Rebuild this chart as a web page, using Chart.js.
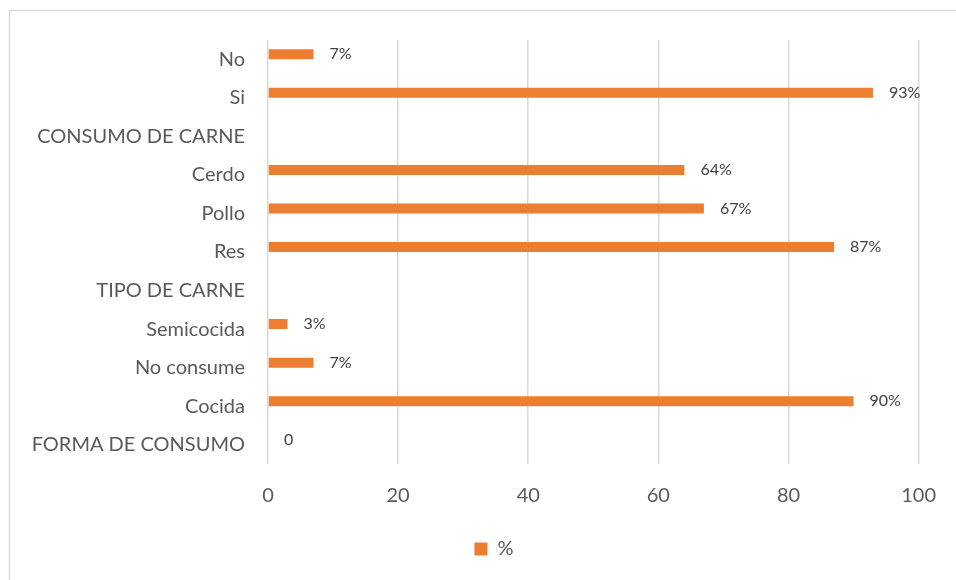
<!DOCTYPE html>
<html>
<head>
<meta charset="utf-8">
<script src="https://cdn.jsdelivr.net/npm/chart.js@4"></script>
<style>
  html, body { margin: 0; padding: 0; background: #fff; }
  #wrap { width: 956px; height: 580px; position: relative; }
</style>
</head>
<body>
<div id="wrap"><canvas id="chart"></canvas></div>
<script>
const categories  = ['No', 'Si', 'CONSUMO DE CARNE', 'Cerdo', 'Pollo', 'Res', 'TIPO DE CARNE', 'Semicocida', 'No consume', 'Cocida', 'FORMA DE CONSUMO'];
const values      = [7, 93, null, 64, 67, 87, null, 3, 7, 90, 0];
const valueLabels = ['7%', '93%', '', '64%', '67%', '87%', '', '3%', '7%', '90%', '0'];
// the source sheet has a second, empty series that pushes the visible bar up in each slot
const blankSeries = [null, null, null, null, null, null, null, null, null, null, null];
const xTicks      = [0, 20, 40, 60, 80, 100];

const FONT = 'Lato, "Open Sans", sans-serif';

const frame = {
    id: 'frame',
    beforeDraw(chart) {
        const c = chart.ctx;
        c.save();
        c.fillStyle = '#fff';
        c.fillRect(0, 0, chart.width, chart.height);
        c.strokeStyle = '#d9d9d9';
        c.lineWidth = 1.5;
        c.beginPath();
        c.moveTo(9.5, chart.height + 2);
        c.lineTo(9.5, 10.5);
        c.lineTo(chart.width + 2, 10.5);
        c.stroke();
        c.restore();
    },
};

// the legend is centred on the whole (wider) chart frame, not just the visible part
const legendShift = {
    id: 'legendShift',
    afterLayout(chart) {
        chart.legend.left += 28;
        chart.legend.right += 28;
    },
};

const barLabels = {
    id: 'barLabels',
    afterDatasetsDraw(chart) {
        const c = chart.ctx;
        const meta = chart.getDatasetMeta(0);
        c.save();
        c.font = '16px ' + FONT;
        c.fillStyle = '#404040';
        c.textBaseline = 'middle';
        c.textAlign = 'left';
        meta.data.forEach((bar, i) => {
            if (!valueLabels[i]) return;
            c.fillText(valueLabels[i], bar.x + 16, bar.y);
        });
        c.restore();
    },
};

new Chart(document.getElementById('chart'), {
    type: 'bar',
    data: {
        labels: categories,
        datasets: [
            { label: '%', data: values, backgroundColor: '#ed7d31', barThickness: 10, categoryPercentage: 0.52, barPercentage: 1, inflateAmount: 0 },
            { label: '', data: blankSeries, backgroundColor: 'transparent', barThickness: 10, categoryPercentage: 0.52, barPercentage: 1, inflateAmount: 0 },
        ],
    },
    options: {
        indexAxis: 'y',
        responsive: true,
        maintainAspectRatio: false,
        animation: false,
        layout: { padding: { left: 10, top: 40, right: 34, bottom: 11 } },
        plugins: {
            legend: {
                position: 'bottom',
                labels: {
                    boxWidth: 13, boxHeight: 13, padding: 15, color: '#595959',
                    font: { size: 20, family: FONT },
                    filter: (item) => item.text !== '',
                },
            },
            tooltip: { enabled: false },
        },
        scales: {
            x: {
                min: 0,
                max: 100,
                afterBuildTicks: (s) => { s.ticks = xTicks.map(v => ({ value: v })); },
                afterFit: (s) => { s.height = 60; },
                grid: { color: '#d9d9d9', lineWidth: 1.5, drawTicks: false },
                border: { display: false },
                ticks: { padding: 20, color: '#595959', font: { size: 20, family: FONT } },
            },
            y: {
                afterFit: (s) => { s.width = 258; },
                grid: { display: false, drawTicks: false },
                border: { display: false },
                ticks: { padding: 23, color: '#595959', font: { size: 20, family: FONT } },
            },
        },
    },
    plugins: [frame, legendShift, barLabels],
});
</script>
</body>
</html>
